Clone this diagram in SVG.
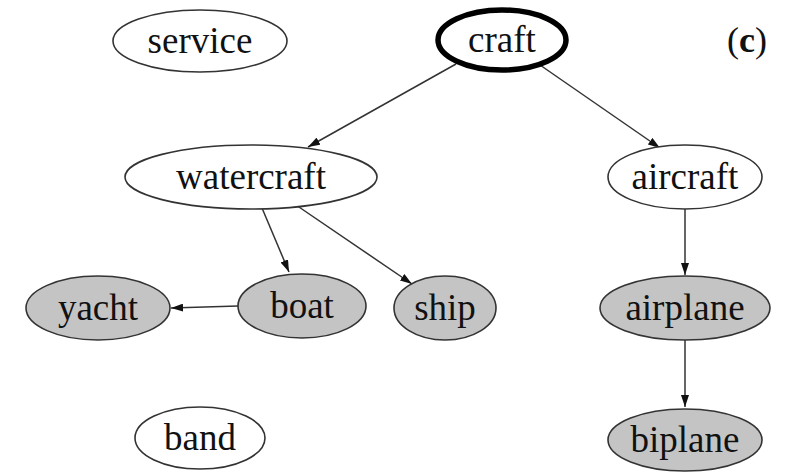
<svg xmlns="http://www.w3.org/2000/svg" width="808" height="473" viewBox="0 0 808 473">
  <style>
    .node ellipse { fill: #ffffff; stroke: #333333; stroke-width: 1.6; }
    .node.leaf ellipse { fill: #c4c4c4; }
    .node.root ellipse { stroke: #000000; stroke-width: 5.5; }
    .node text { font-family: "Liberation Serif", "DejaVu Serif", serif; font-size: 37px; fill: #111111; text-anchor: middle; }
    .edges line { stroke: #333333; stroke-width: 1.5; marker-end: url(#arrow); }
    .tag { font-family: "Liberation Serif", "DejaVu Serif", serif; font-size: 36px; fill: #111111; text-anchor: middle; }
    .tag tspan { font-weight: bold; }
  </style>
  <defs>
    <marker id="arrow" viewBox="0 0 12 8" refX="12" refY="4" markerWidth="12" markerHeight="8" markerUnits="userSpaceOnUse" orient="auto">
      <path d="M0,0 L12,4 L0,8 Z" fill="#111111"/>
    </marker>
  </defs>

  <rect width="808" height="473" fill="#ffffff"/>

  <g class="edges">
    <line x1="456" y1="64" x2="308" y2="147"/>
    <line x1="540" y1="65" x2="660" y2="148"/>
    <line x1="262" y1="208" x2="289" y2="272"/>
    <line x1="296" y1="205" x2="412" y2="284"/>
    <line x1="238" y1="306" x2="171" y2="308"/>
    <line x1="685" y1="209" x2="685" y2="275"/>
    <line x1="685" y1="340" x2="685" y2="407"/>
  </g>

  <g id="service" class="node">
    <ellipse cx="200" cy="41" rx="87" ry="31"/>
    <text x="200" y="53">service</text>
  </g>
  <g id="craft" class="node root">
    <ellipse cx="502" cy="40" rx="64" ry="30"/>
    <text x="502" y="52">craft</text>
  </g>
  <g id="watercraft" class="node">
    <ellipse cx="251" cy="177" rx="126" ry="32"/>
    <text x="251" y="189">watercraft</text>
  </g>
  <g id="aircraft" class="node">
    <ellipse cx="685" cy="177" rx="77" ry="32"/>
    <text x="685" y="189">aircraft</text>
  </g>
  <g id="yacht" class="node leaf">
    <ellipse cx="98" cy="308" rx="72" ry="32"/>
    <text x="98" y="320">yacht</text>
  </g>
  <g id="boat" class="node leaf">
    <ellipse cx="302" cy="306" rx="64" ry="32"/>
    <text x="302" y="318">boat</text>
  </g>
  <g id="ship" class="node leaf">
    <ellipse cx="445" cy="308" rx="51" ry="32"/>
    <text x="445" y="320">ship</text>
  </g>
  <g id="airplane" class="node leaf">
    <ellipse cx="685" cy="308" rx="85" ry="32"/>
    <text x="685" y="320">airplane</text>
  </g>
  <g id="band" class="node">
    <ellipse cx="200" cy="438" rx="65" ry="31"/>
    <text x="200" y="450">band</text>
  </g>
  <g id="biplane" class="node leaf">
    <ellipse cx="685" cy="440" rx="77" ry="31"/>
    <text x="685" y="452">biplane</text>
  </g>

  <text class="tag" x="747" y="52">(<tspan>c</tspan>)</text>
</svg>
